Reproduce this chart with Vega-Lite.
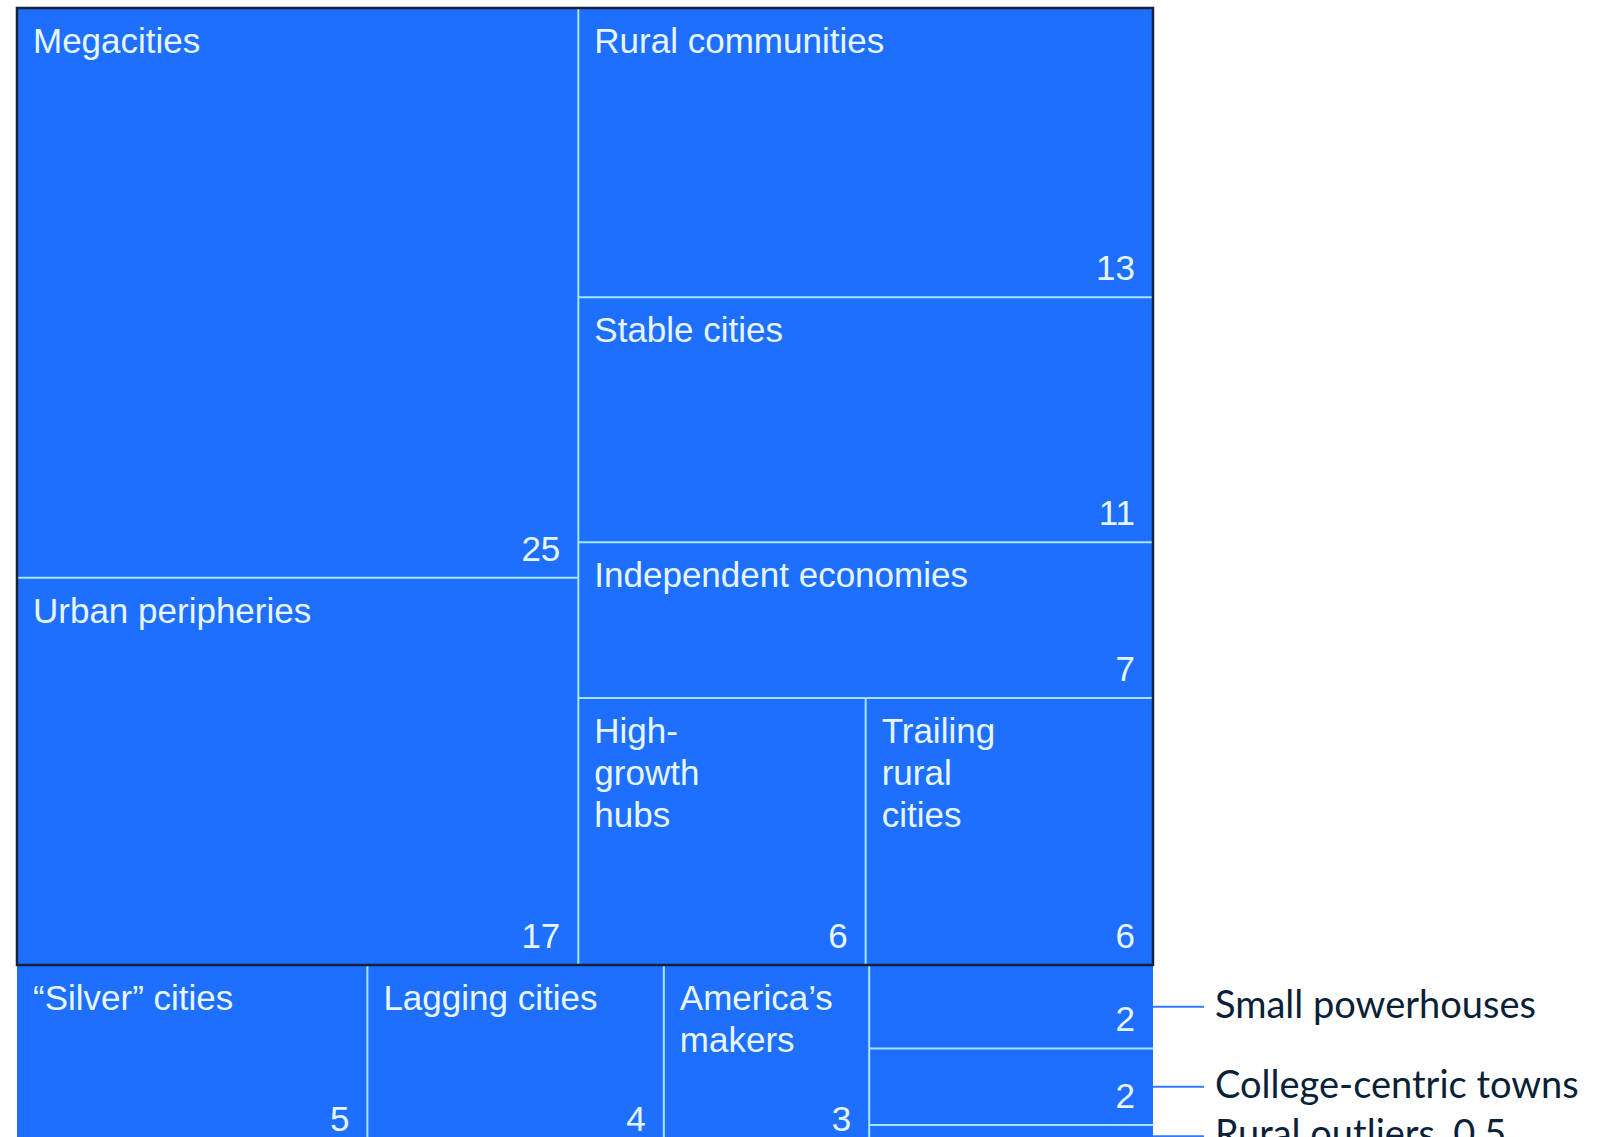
{
  "$schema": "https://vega.github.io/schema/vega-lite/v6.json",
  "width": 1585,
  "height": 1129,
  "autosize": "none",
  "padding": {"left": 17, "top": 8, "right": 0, "bottom": 0},
  "background": "white",
  "config": {"view": {"stroke": null}},
  "data": {
    "values": [
      {"label": "Megacities", "value": 25, "block": "T", "col": "TA", "row": "TA1"},
      {"label": "Urban peripheries", "value": 17, "block": "T", "col": "TA", "row": "TA2"},
      {"label": "Rural communities", "value": 13, "block": "T", "col": "TB", "row": "TB1"},
      {"label": "Stable cities", "value": 11, "block": "T", "col": "TB", "row": "TB2"},
      {"label": "Independent economies", "value": 7, "block": "T", "col": "TB", "row": "TB3"},
      {"label": "High-\ngrowth\nhubs", "value": 6, "block": "T", "col": "TB", "row": "TB4"},
      {"label": "Trailing\nrural\ncities", "value": 6, "block": "T", "col": "TB", "row": "TB4"},
      {"label": "“Silver” cities", "value": 5, "block": "B", "col": "BA", "row": "BA1"},
      {"label": "Lagging cities", "value": 4.23, "block": "B", "col": "BB", "row": "BB1"},
      {"label": "America’s\nmakers", "value": 2.93, "block": "B", "col": "BC", "row": "BC1"},
      {"label": "Small powerhouses", "value": 1.85, "block": "B", "col": "BD", "row": "BD1"},
      {"label": "College-centric towns", "value": 1.7, "block": "B", "col": "BD", "row": "BD2"},
      {"label": "Rural outliers", "value": 0.5, "block": "B", "col": "BD", "row": "BD3"}
    ]
  },
  "transform": [
    {"window": [{"op": "sum", "field": "value", "as": "cum"}], "frame": [null, 0]},
    {"calculate": "datum.cum - datum.value", "as": "c0"},
    {"joinaggregate": [{"op": "min", "field": "c0", "as": "bStart"}, {"op": "sum", "field": "value", "as": "bSum"}], "groupby": ["block"]},
    {"joinaggregate": [{"op": "min", "field": "c0", "as": "cStart"}, {"op": "sum", "field": "value", "as": "cSum"}], "groupby": ["col"]},
    {"joinaggregate": [{"op": "min", "field": "c0", "as": "rStart"}, {"op": "sum", "field": "value", "as": "rSum"}], "groupby": ["row"]},
    {"calculate": "datum.bSum / 10", "as": "bh"},
    {"calculate": "datum.bStart / 10", "as": "by0"},
    {"calculate": "(datum.cStart - datum.bStart) / datum.bh", "as": "cx0"},
    {"calculate": "datum.cSum / datum.bh", "as": "cw"},
    {"calculate": "datum.by0 + (datum.rStart - datum.cStart) / datum.cw", "as": "y0"},
    {"calculate": "datum.rSum / datum.cw", "as": "rh"},
    {"calculate": "datum.y0 + datum.rh", "as": "y1"},
    {"calculate": "datum.cx0 + (datum.c0 - datum.rStart) / datum.rh", "as": "x0"},
    {"calculate": "datum.x0 + datum.value / datum.rh", "as": "x1"},
    {"calculate": "(datum.y0 + datum.y1) / 2", "as": "yc"}
  ],
  "layer": [
    {
      "mark": {"type": "rect", "fill": "#1f6fff", "clip": true},
      "encoding": {
        "x": {"field": "x0", "type": "quantitative", "scale": {"domain": [0, 13.9525], "nice": false, "zero": false}, "axis": null},
        "x2": {"field": "x1"},
        "y": {"field": "y0", "type": "quantitative", "scale": {"domain": [0, 10.0266], "nice": false, "zero": false, "reverse": true}, "axis": null},
        "y2": {"field": "y1"}
      }
    },
    {
      "transform": [{"filter": "datum.x0 > 0.001"}],
      "mark": {"type": "rule", "stroke": "#a3e4ff", "strokeWidth": 2, "clip": true},
      "encoding": {
        "x": {"field": "x0", "type": "quantitative", "scale": {"domain": [0, 13.9525], "nice": false, "zero": false}, "axis": null},
        "y": {"field": "y0", "type": "quantitative", "scale": {"domain": [0, 10.0266], "nice": false, "zero": false, "reverse": true}, "axis": null},
        "y2": {"field": "y1"}
      }
    },
    {
      "transform": [{"filter": "datum.y0 > 0.001"}],
      "mark": {"type": "rule", "stroke": "#a3e4ff", "strokeWidth": 2, "clip": true},
      "encoding": {
        "x": {"field": "x0", "type": "quantitative", "scale": {"domain": [0, 13.9525], "nice": false, "zero": false}, "axis": null},
        "x2": {"field": "x1"},
        "y": {"field": "y0", "type": "quantitative", "scale": {"domain": [0, 10.0266], "nice": false, "zero": false, "reverse": true}, "axis": null}
      }
    },
    {
      "transform": [
        {"filter": "datum.block === 'T'"},
        {"aggregate": [{"op": "min", "field": "x0", "as": "bx0"}, {"op": "max", "field": "x1", "as": "bx1"}, {"op": "min", "field": "y0", "as": "bty0"}, {"op": "max", "field": "y1", "as": "bty1"}], "groupby": ["block"]}
      ],
      "mark": {"type": "rect", "fill": null, "fillOpacity": 0, "stroke": "#16223a", "strokeWidth": 2.5},
      "encoding": {
        "x": {"field": "bx0", "type": "quantitative", "scale": {"domain": [0, 13.9525], "nice": false, "zero": false}, "axis": null},
        "x2": {"field": "bx1"},
        "y": {"field": "bty0", "type": "quantitative", "scale": {"domain": [0, 10.0266], "nice": false, "zero": false, "reverse": true}, "axis": null},
        "y2": {"field": "bty1"}
      }
    },
    {
      "transform": [{"filter": "datum.col !== 'BD'"}],
      "mark": {"type": "text", "align": "left", "baseline": "alphabetic", "dx": 16, "dy": 45, "font": "Liberation Sans", "fontSize": 35, "lineHeight": 42, "lineBreak": "\n", "fill": "#e6f6ff", "clip": true},
      "encoding": {
        "x": {"field": "x0", "type": "quantitative", "scale": {"domain": [0, 13.9525], "nice": false, "zero": false}, "axis": null},
        "y": {"field": "y0", "type": "quantitative", "scale": {"domain": [0, 10.0266], "nice": false, "zero": false, "reverse": true}, "axis": null},
        "text": {"field": "label", "type": "nominal"}
      }
    },
    {
      "transform": [{"filter": "datum.value >= 1"}],
      "mark": {"type": "text", "align": "right", "baseline": "alphabetic", "dx": -18, "dy": -17, "font": "Liberation Sans", "fontSize": 35, "fill": "#e6f6ff", "clip": true},
      "encoding": {
        "x": {"field": "x1", "type": "quantitative", "scale": {"domain": [0, 13.9525], "nice": false, "zero": false}, "axis": null},
        "y": {"field": "y1", "type": "quantitative", "scale": {"domain": [0, 10.0266], "nice": false, "zero": false, "reverse": true}, "axis": null},
        "text": {"field": "value", "type": "quantitative", "format": ".0f"}
      }
    },
    {
      "transform": [{"filter": "datum.col === 'BD'"}],
      "mark": {"type": "rule", "stroke": "#2f7bff", "strokeWidth": 2, "x2Offset": 51},
      "encoding": {
        "x": {"field": "x1", "type": "quantitative", "scale": {"domain": [0, 13.9525], "nice": false, "zero": false}, "axis": null},
        "x2": {"field": "x1"},
        "y": {"field": "yc", "type": "quantitative", "scale": {"domain": [0, 10.0266], "nice": false, "zero": false, "reverse": true}, "axis": null}
      }
    },
    {
      "transform": [
        {"filter": "datum.col === 'BD'"},
        {"calculate": "datum.value < 1 ? datum.label + ', ' + datum.value : datum.label", "as": "ann"}
      ],
      "mark": {"type": "text", "align": "left", "baseline": "middle", "dx": 62, "font": "Lato", "fontSize": 38, "fill": "#0a1f38"},
      "encoding": {
        "x": {"field": "x1", "type": "quantitative", "scale": {"domain": [0, 13.9525], "nice": false, "zero": false}, "axis": null},
        "y": {"field": "yc", "type": "quantitative", "scale": {"domain": [0, 10.0266], "nice": false, "zero": false, "reverse": true}, "axis": null},
        "text": {"field": "ann", "type": "nominal"}
      }
    }
  ]
}
